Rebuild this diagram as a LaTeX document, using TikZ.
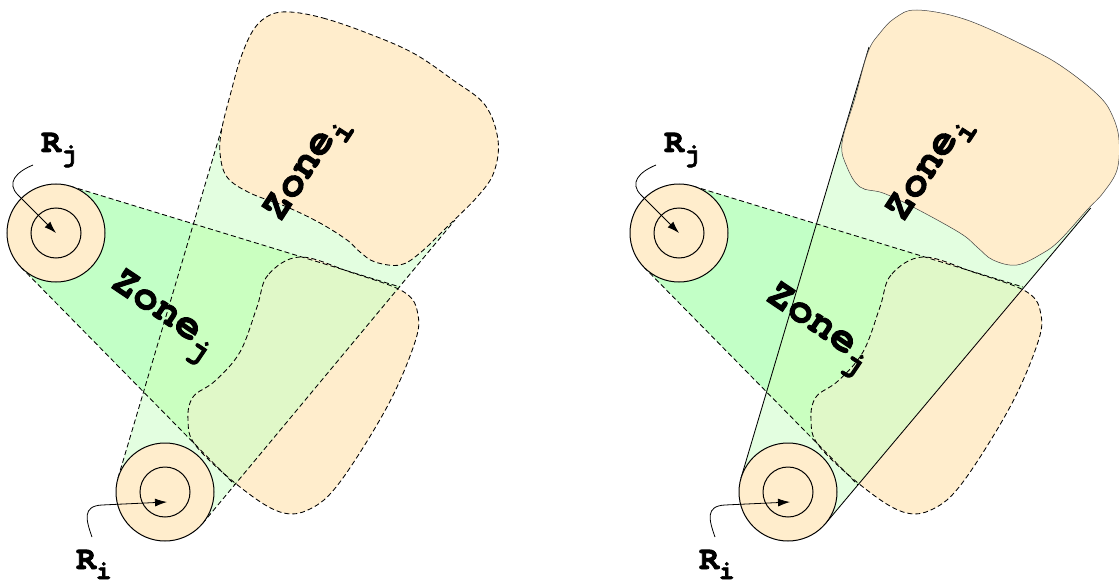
\documentclass[tikz,border=0pt]{standalone}
\usepackage{fontspec}
\newfontfamily\cur{TeX Gyre Cursor}[BoldFeatures={FakeBold=2.4}]
\usetikzlibrary{arrows.meta}
\definecolor{beige}{HTML}{FFEDCC}
\definecolor{gi}{HTML}{E3FEE0}
\definecolor{gj}{HTML}{C2FFC6}
\definecolor{gij}{HTML}{CAFFC0}
\definecolor{gb}{HTML}{E0F8C8}
\tikzset{
  dsh/.style={dash pattern=on 5pt off 3pt, line width=0.85pt},
  sol/.style={line width=0.85pt},
  ring/.style={circle, draw, line width=1pt, inner sep=0pt},
  lab/.style={font=\cur\bfseries\fontsize{33}{33}\selectfont, inner sep=0pt, anchor=base west},
  zlab/.style={font=\cur\bfseries\fontsize{42}{42}\selectfont, inner sep=0pt, anchor=base west},
  arr/.style={line width=0.8pt, -{Latex[length=12pt,width=8pt]}},
}
\newcommand\subl[1]{\raisebox{-10pt}{\fontsize{26}{26}\selectfont #1}}
\newcommand\subz[1]{\raisebox{-12pt}{\fontsize{32}{32}\selectfont #1}}
\def\RjCone{(70.3,186.2) -- (400,287) -- (235,485) -- (21.05,267.3) -- (56,233) -- cycle}
\def\RiConeA{(118,478) -- (248,40) -- (400,100) -- (455,220) -- (202.5,523.5) -- (165,492) -- cycle}
\def\RiConeB{(118,478) -- (246,47) -- (400,100) -- (467.7,208) -- (202.5,523.5) -- (165,492) -- cycle}
\def\ZjBlob{plot[smooth cycle, tension=0.6] coordinates {(300,257) (268,275) (257,307) (240,352) (215,381) (193,397) (188,420) (196,446) (240,487) (280,512) (310,509) (340,482) (387,407) (414,345) (418,315) (404,292) (350,272)}}
\def\ZiBlobA{plot[smooth cycle, tension=0.6] coordinates {(290,12) (323,18) (367,33) (413,53) (453,80) (485,105) (498,140) (494,172) (478,196) (447,227) (420,253) (400,265) (375,262) (360,252) (347,240) (320,223) (287,207) (250,193) (227,177) (220,153) (222,128) (231,92) (241,57) (254,29) (270,15)}}
\def\ZiBlobB{plot[smooth cycle, tension=0.6] coordinates {(294,10) (344,20) (410,50) (444,70) (477,97) (490,117) (496,140) (494,170) (480,193) (464,210) (437,240) (420,253) (394,265) (370,260) (354,247) (337,233) (290,207) (260,193) (237,187) (224,167) (219,143) (232,98) (245,52) (257,33) (272,18)}}
\begin{document}
\begin{tikzpicture}[x=1pt,y=-1pt]
\useasboundingbox (0,0) rectangle (1119,583);
\clip (0,0) rectangle (1119,583);
% ================= left panel =================
\fill[gi] \RiConeA;
\fill[gj] \RjCone;
\begin{scope}\clip \RiConeA; \fill[gij] \RjCone;\end{scope}
\fill[beige] \ZjBlob;
\begin{scope}\clip \ZjBlob; \fill[gb] \RjCone;\end{scope}
\coordinate (a1) at (118,478); \coordinate (a2) at (248,40);
\coordinate (a3) at (202.5,523.5); \coordinate (a4) at (455,220);
\coordinate (b1) at (70.3,186.2); \coordinate (b2) at (400,287);
\coordinate (b3) at (21.05,267.3); \coordinate (b4) at (235,485);
\draw[dsh] (a1) -- (a2);
\draw[dsh] (a3) -- (a4);
\draw[dsh] (b1) -- (b2);
\draw[dsh] (b3) -- (b4);
\fill[beige] \ZiBlobA;
\draw[dsh] \ZiBlobA;
\draw[dsh] \ZjBlob;
\node[ring, fill=beige, minimum size=98pt] (rj) at (56,233) {};
\node[ring, minimum size=50pt] (rjin) at (56,233) {};
\node[ring, fill=beige, minimum size=98pt] (ri) at (165,492) {};
\node[ring, minimum size=50pt] (riin) at (165,492) {};
\coordinate (rjs) at (33,165);
\coordinate (ris) at (92,537);
\coordinate (ritip) at (167,502);
\draw[arr] (rjs) .. controls (16,172) and (6,183) .. (18,195) -- (rj.center);
\draw[arr] (ris) .. controls (86,520) and (82,506) .. (102,505) -- (ritip);
\node[lab] (lrj) at (41,152) {R\subl{j}};
\node[lab] (lri) at (76,569) {R\subl{i}};
\node[zlab, rotate=57] (zi) at (280,223) {Zone\subz{i}};
\node[zlab, rotate=-34] (zj) at (109,286) {Zone\subz{j}};
% ================= right panel =================
\begin{scope}[xshift=623pt]
\fill[gi] \RiConeB;
\fill[gj] \RjCone;
\begin{scope}\clip \RiConeB; \fill[gij] \RjCone;\end{scope}
\fill[beige] \ZjBlob;
\begin{scope}\clip \ZjBlob; \fill[gb] \RjCone;\end{scope}
\coordinate (c1) at (118,478); \coordinate (c2) at (246,47);
\coordinate (c3) at (202.5,523.5); \coordinate (c4) at (467.7,208);
\coordinate (d1) at (70.3,186.2); \coordinate (d2) at (400,287);
\coordinate (d3) at (21.05,267.3); \coordinate (d4) at (235,485);
\draw[sol] (c1) -- (c2);
\draw[sol] (c3) -- (c4);
\draw[dsh] (d1) -- (d2);
\draw[dsh] (d3) -- (d4);
\fill[beige] \ZiBlobB;
\draw[line width=0.5pt, black!75] \ZiBlobB;
\draw[dsh] \ZjBlob;
\node[ring, fill=beige, minimum size=98pt] (rj2) at (56,233) {};
\node[ring, minimum size=50pt] (rjin2) at (56,233) {};
\node[ring, fill=beige, minimum size=98pt] (ri2) at (165,492) {};
\node[ring, minimum size=50pt] (riin2) at (165,492) {};
\coordinate (rjs2) at (33,165);
\coordinate (ris2) at (92,537);
\coordinate (ritip2) at (167,502);
\draw[arr] (rjs2) .. controls (16,172) and (6,183) .. (18,195) -- (rj2.center);
\draw[arr] (ris2) .. controls (86,520) and (82,506) .. (102,505) -- (ritip2);
\node[lab] (lrj2) at (41,152) {R\subl{j}};
\node[lab] (lri2) at (76,569) {R\subl{i}};
\node[zlab, rotate=57] (zi2) at (280,223) {Zone\subz{i}};
\node[zlab, rotate=-34] (zj2) at (141,299) {Zone\subz{j}};
\end{scope}
\end{tikzpicture}
\end{document}
